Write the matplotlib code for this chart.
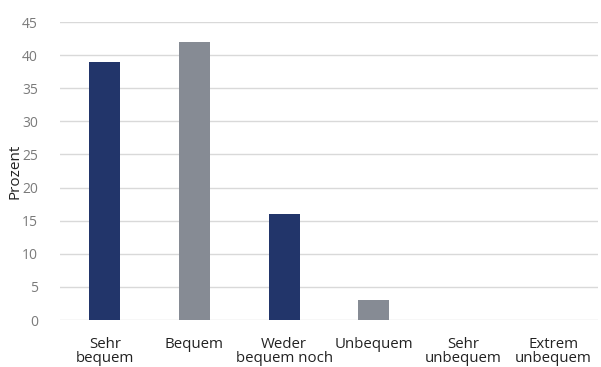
import matplotlib.pyplot as plt

categories = ["Sehr\nbequem", "Bequem", "Weder\nbequem noch", "Unbequem", "Sehr\nunbequem", "Extrem\nunbequem"]
values = [39, 42, 16, 3, 0, 0]
bar_colors = ["#22356a", "#868b94", "#22356a", "#868b94", "#22356a", "#868b94"]
y_ticks = [0, 5, 10, 15, 20, 25, 30, 35, 40, 45]

plt.rcParams['font.family'] = ['Open Sans', 'DejaVu Sans']

fig = plt.figure(figsize=(6.01, 3.67), dpi=100)
ax = fig.add_axes([60 / 601, 1 - 320 / 367, 538 / 601, 298 / 367])

ax.bar(range(len(categories)), values, width=0.345, color=bar_colors, zorder=3)

ax.set_xlim(-0.5, len(categories) - 0.5)
ax.set_ylim(0, 45)
ax.set_yticks(y_ticks)
ax.set_xticks(range(len(categories)))
ax.set_xticklabels(categories, fontsize=10.8, color="#222222", linespacing=0.95)
ax.tick_params(axis='y', labelsize=10, labelcolor="#7a7a7a", length=0, pad=16)
ax.tick_params(axis='x', length=0, pad=12)
ax.grid(axis='y', color="#d9d9d9", linewidth=1, zorder=0)
for s in ax.spines.values():
    s.set_visible(False)
ax.set_ylabel("Prozent", fontsize=11, color="#222222")
ax.yaxis.set_label_coords(-37 / 538, 0.5)

fig.savefig("out.png", dpi=100)
